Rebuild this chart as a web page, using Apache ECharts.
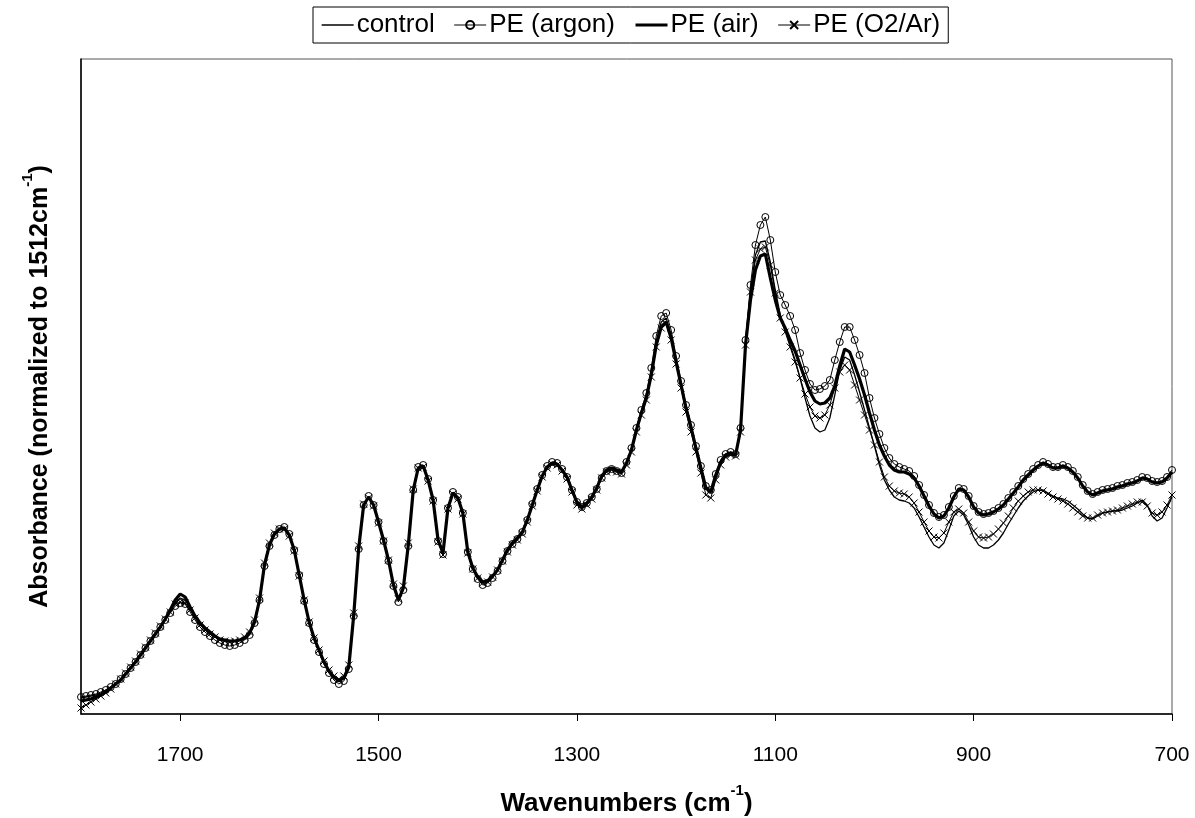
<!DOCTYPE html>
<html>
<head>
<meta charset="utf-8">
<title>PE FTIR spectra</title>
<style>
html,body{margin:0;padding:0;background:#fff;}
#chart{width:1195px;height:818px;}
</style>
</head>
<body>
<div id="chart"></div>
<script src="https://cdn.jsdelivr.net/npm/echarts@6/dist/echarts.min.js"></script>
<script>
// wavenumbers, cm-1 (5 cm-1 steps)
var wavenumbers = [
1800,1795,1790,1785,1780,1775,1770,1765,1760,1755,1750,1745,1740,1735,1730,1725,1720,1715,1710,1705,
1700,1695,1690,1685,1680,1675,1670,1665,1660,1655,1650,1645,1640,1635,1630,1625,1620,1615,1610,1605,
1600,1595,1590,1585,1580,1575,1570,1565,1560,1555,1550,1545,1540,1535,1530,1525,1520,1515,1510,1505,
1500,1495,1490,1485,1480,1475,1470,1465,1460,1455,1450,1445,1440,1435,1430,1425,1420,1415,1410,1405,
1400,1395,1390,1385,1380,1375,1370,1365,1360,1355,1350,1345,1340,1335,1330,1325,1320,1315,1310,1305,
1300,1295,1290,1285,1280,1275,1270,1265,1260,1255,1250,1245,1240,1235,1230,1225,1220,1215,1210,1205,
1200,1195,1190,1185,1180,1175,1170,1165,1160,1155,1150,1145,1140,1135,1130,1125,1120,1115,1110,1105,
1100,1095,1090,1085,1080,1075,1070,1065,1060,1055,1050,1045,1040,1035,1030,1025,1020,1015,1010,1005,
1000,995,990,985,980,975,970,965,960,955,950,945,940,935,930,925,920,915,910,905,
900,895,890,885,880,875,870,865,860,855,850,845,840,835,830,825,820,815,810,805,
800,795,790,785,780,775,770,765,760,755,750,745,740,735,730,725,720,715,710,705,
700];

// absorbance, arbitrary units
var control = [
16,17,18,19,21,24,27,31,35,41,47,53,59,66,73,80,87,95,103,111,
116,114,106,98,91,86,82,78,75,74,73,73,74,76,81,92,114,149,169,180,
185,186,179,164,139,114,92,76,64,52,43,37,33,36,47,99,166,209,217,209,
192,174,154,129,114,126,169,224,246,248,234,214,174,161,206,221,216,201,162,146,
137,132,133,138,144,154,164,171,176,182,194,209,224,238,247,251,250,244,237,224,
212,207,211,217,226,238,244,246,244,242,251,264,284,301,317,341,372,392,396,378,
354,330,307,288,267,247,227,223,240,253,260,262,260,282,369,424,459,472,473,452,
424,399,384,369,354,336,316,298,286,282,284,296,319,344,357,354,339,322,304,286,
268,249,234,224,217,214,213,211,206,197,187,177,169,166,171,184,198,203,199,189,
177,169,166,166,169,174,181,190,198,206,213,218,222,224,224,221,218,216,215,213,
209,205,200,196,195,198,201,202,203,203,204,206,208,211,214,209,198,193,196,206,
217];

var peArgon = [
17,18,19,20,22,24,27,30,35,40,46,52,59,66,73,80,87,94,101,108,
111,110,102,94,87,82,78,74,71,69,68,69,71,74,79,91,114,148,168,179,
185,187,180,164,139,113,91,74,62,50,41,34,30,33,45,98,165,209,218,209,
192,173,153,128,112,124,168,224,247,249,235,214,173,160,206,222,217,201,162,145,
135,129,131,136,143,153,163,170,175,182,194,210,225,239,248,252,251,245,237,224,
212,207,211,217,225,236,243,245,243,241,252,266,286,304,321,346,378,398,401,384,
358,333,309,289,268,248,228,224,240,254,260,262,260,286,374,429,469,489,497,474,
442,419,409,398,384,361,344,330,324,325,328,334,354,372,387,387,374,359,341,316,
296,280,266,256,250,247,245,243,238,229,219,209,201,197,199,207,218,226,225,218,
208,202,200,201,203,206,210,216,222,228,235,240,245,249,252,250,247,247,249,247,
243,237,229,223,220,222,224,225,226,228,229,231,232,234,237,236,233,232,233,237,
244];

var peAir = [
13,14,15,17,19,22,26,30,34,40,46,52,59,66,73,80,87,95,104,114,
120,117,107,98,91,86,82,78,75,74,73,73,74,76,81,92,114,149,169,180,
185,186,179,164,139,114,92,76,64,52,43,37,33,36,47,99,166,209,217,209,
192,174,154,129,114,126,169,224,246,248,234,214,174,161,206,221,216,201,162,146,
137,132,133,138,144,154,164,171,176,182,194,209,224,238,247,251,250,244,237,224,
212,207,211,217,226,238,244,246,244,242,251,264,284,301,316,339,369,387,392,376,
352,329,306,287,266,246,226,222,239,252,259,261,259,284,369,414,444,458,460,436,
414,396,386,374,363,349,335,322,313,310,311,316,328,348,365,362,349,335,319,301,
284,269,258,249,244,242,242,240,236,228,218,208,200,196,198,206,217,225,224,217,
207,201,199,200,202,205,209,215,221,227,234,239,244,248,251,249,246,246,248,246,
242,236,228,222,219,221,223,224,225,227,228,230,231,233,236,235,232,231,232,236,
242];

var peO2Ar = [
6,9,12,15,18,21,25,30,35,41,47,53,60,67,74,81,88,95,102,110,
112,111,104,96,89,84,80,77,74,73,72,73,74,77,82,94,116,151,171,181,
185,185,178,163,138,114,92,76,64,53,44,38,35,38,49,101,168,210,216,208,
191,173,154,130,115,128,171,225,246,247,233,213,172,159,205,220,215,200,161,145,
136,131,132,137,144,153,162,169,174,180,192,208,223,237,246,250,249,243,235,222,
209,205,209,215,224,236,242,244,242,240,249,262,282,299,314,337,367,386,390,374,
350,326,302,282,262,241,219,216,234,249,257,259,258,282,369,422,454,465,467,449,
421,396,382,367,352,336,320,307,298,296,299,309,326,342,349,344,329,314,299,284,
269,252,237,228,223,221,220,217,211,202,192,183,177,176,181,192,202,205,201,192,
183,177,176,177,180,185,191,198,206,213,218,222,224,224,223,220,217,215,213,210,
206,202,198,196,196,199,201,202,203,204,206,208,210,212,212,208,201,199,202,209,
219];

var xTicks = [1700, 1500, 1300, 1100, 900, 700];
var seriesNames = ['control', 'PE (argon)', 'PE (air)', 'PE (O2/Ar)'];

var FONT = "'Liberation Sans', Arial, sans-serif";

function pairs(arr) {
	return wavenumbers.map(function (w, i) { return [w, arr[i]]; });
}

// rich styles for axis titles with a raised "-1"
function titleRich(size, supSize) {
	return {
		n: {fontFamily: FONT, fontSize: size, fontWeight: 'bold', color: '#000', lineHeight: size + 8, verticalAlign: 'bottom'},
		sup: {fontFamily: FONT, fontSize: supSize, fontWeight: 'bold', color: '#000', lineHeight: supSize, verticalAlign: 'top'}
	};
}

var chart = echarts.init(document.getElementById('chart'), null, {renderer: 'canvas'});

var option = {
	animation: false,
	backgroundColor: '#fff',
	textStyle: {fontFamily: FONT, color: '#000'},
	legend: {
		data: [
			{name: seriesNames[0], itemStyle: {opacity: 0}, lineStyle: {width: 1.3}},
			{name: seriesNames[1], lineStyle: {width: 1}},
			{name: seriesNames[2], itemStyle: {opacity: 0}, lineStyle: {width: 3.2}},
			{name: seriesNames[3], lineStyle: {width: 1}}
		],
		left: 313,
		top: 7,
		padding: [5, 8, 5, 8],
		borderColor: '#000',
		borderWidth: 1,
		itemWidth: 32,
		itemHeight: 10,
		itemGap: 19,
		textStyle: {fontFamily: FONT, fontSize: 26, color: '#000', padding: [0, 0, 0, -2]}
	},
	grid: {
		left: 81, right: 23, top: 59, bottom: 104,
		outerBoundsMode: 'none',
		containLabel: false,
		show: true, borderColor: '#555', borderWidth: 1
	},
	xAxis: {
		type: 'value',
		inverse: true,
		min: 700,
		max: 1800,
		axisLine: {lineStyle: {color: '#000', width: 1.5}},
		axisTick: {customValues: xTicks, length: 7, lineStyle: {color: '#000'}},
		axisLabel: {
			customValues: xTicks, fontFamily: FONT, fontSize: 21, color: '#000', margin: 31,
			formatter: function (v) { return String(v); }
		},
		splitLine: {show: false},
		name: '{n|Wavenumbers (cm}{sup|-1}{n|)}',
		nameLocation: 'middle',
		nameGap: 69,
		nameTextStyle: {rich: titleRich(26, 15)}
	},
	yAxis: {
		type: 'value',
		min: 0,
		max: 655,
		axisLine: {show: true, lineStyle: {color: '#000', width: 1.5}},
		axisTick: {show: false},
		axisLabel: {show: false},
		splitLine: {show: false},
		name: '{n|Absorbance (normalized to 1512cm}{sup|-1}{n|)}',
		nameLocation: 'middle',
		nameGap: 28,
		nameTextStyle: {rich: titleRich(25, 15)}
	},
	series: [
		{
			name: 'control', type: 'line', data: pairs(control),
			symbol: 'none',
			lineStyle: {color: '#000', width: 1.3},
			itemStyle: {color: '#000'}
		},
		{
			name: 'PE (argon)', type: 'line', data: pairs(peArgon),
			symbol: 'circle', symbolSize: 7, showAllSymbol: true,
			lineStyle: {color: '#000', width: 1},
			itemStyle: {color: 'rgba(255,255,255,0)', borderColor: '#000', borderWidth: 1}
		},
		{
			name: 'PE (air)', type: 'line', data: pairs(peAir),
			symbol: 'none',
			lineStyle: {color: '#000', width: 3.2},
			itemStyle: {color: '#000'}
		},
		{
			name: 'PE (O2/Ar)', type: 'line', data: pairs(peO2Ar),
			symbol: 'path://M0,0L10,10M10,0L0,10', symbolSize: 7, showAllSymbol: true,
			lineStyle: {color: '#000', width: 1},
			itemStyle: {color: 'rgba(255,255,255,0)', borderColor: '#000', borderWidth: 1}
		}
	]
};

chart.setOption(option);
</script>
</body>
</html>
